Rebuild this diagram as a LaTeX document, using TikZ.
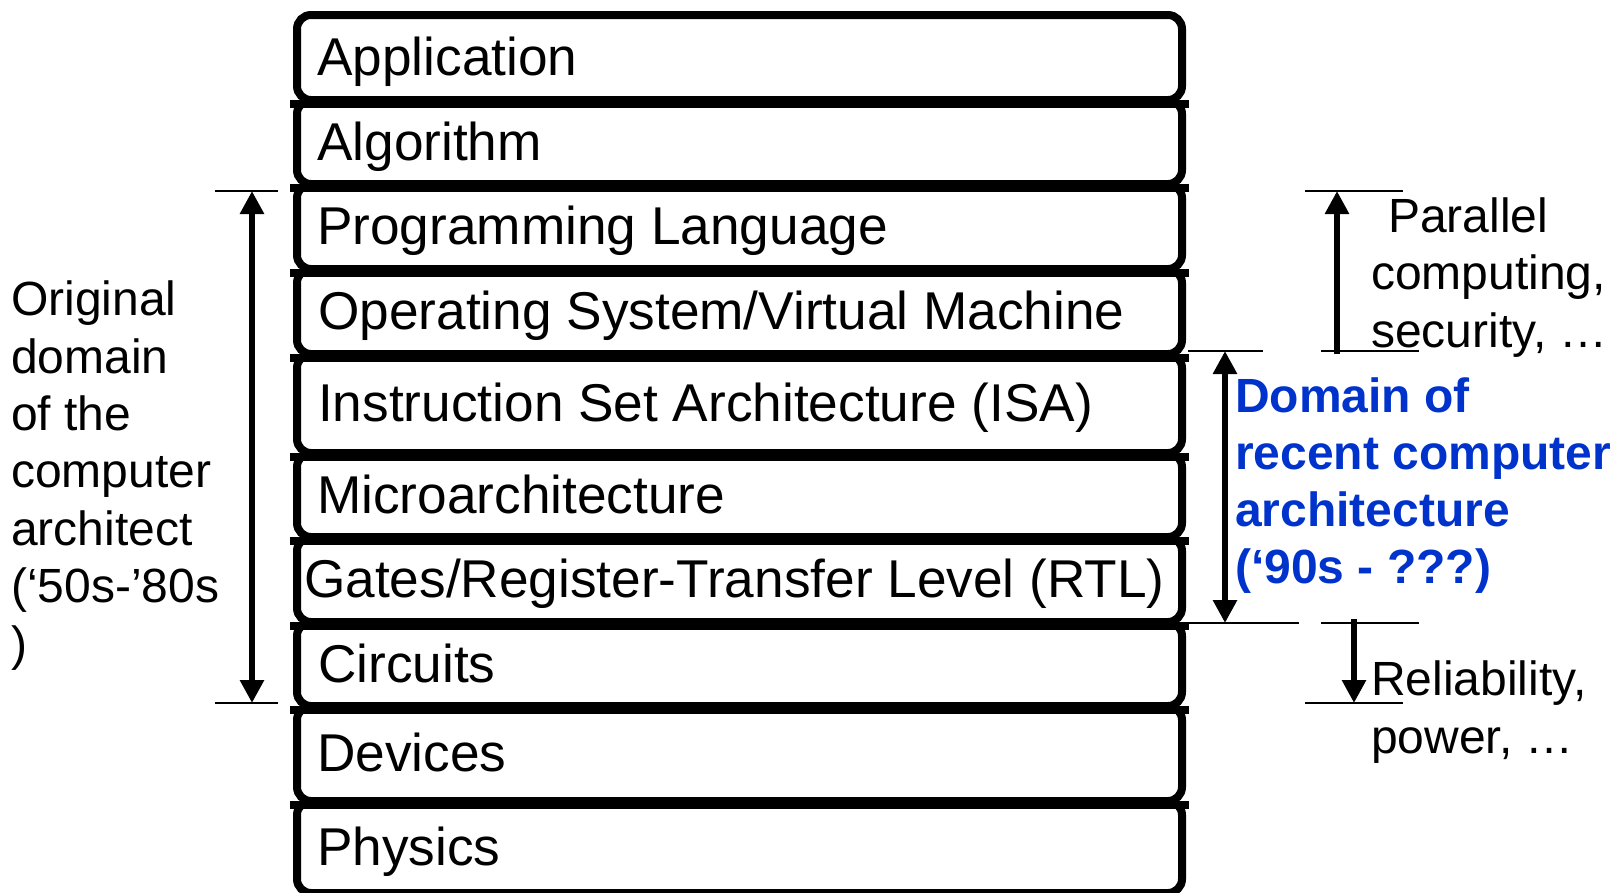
\documentclass[tikz,border=0pt]{standalone}
\usepackage{fontspec}
\setmainfont{Liberation Sans}
\usetikzlibrary{arrows.meta,calc}
\definecolor{domblue}{HTML}{0033CC}
\begin{document}
\begin{tikzpicture}[x=1pt,y=-1pt,
  layer/.style={draw, line width=8pt, rounded corners=14pt, minimum width=885pt, inner sep=0pt, anchor=north west},
  sep/.style={line width=8pt},
  boxtext/.style={font=\fontsize{53.2}{60}\selectfont, inner sep=0pt, anchor=base west},
  side/.style={font=\fontsize{48}{57.4}\selectfont, inner sep=0pt, anchor=base west, align=left},
  dom/.style={font=\fontsize{48}{56.8}\selectfont\bfseries, text=domblue, inner sep=0pt, anchor=base west, align=left},
  tick/.style={line width=2pt},
  dbl/.style={line width=6.5pt, {Triangle[length=23pt,width=23pt]}-{Triangle[length=23pt,width=23pt]}},
  sgl/.style={line width=6.5pt, -{Triangle[length=23pt,width=23pt]}}]
\useasboundingbox (0,0) rectangle (1616,892);
% layer boxes
\node[layer, minimum height=85pt] (app) at (293,11) {};
\node[layer, minimum height=84pt] (alg) at (293,96) {};
\node[layer, minimum height=85pt] (pl) at (293,180) {};
\node[layer, minimum height=85pt] (os) at (293,265) {};
\node[layer, minimum height=99pt] (isa) at (293,350) {};
\node[layer, minimum height=84pt] (mic) at (293,449) {};
\node[layer, minimum height=85pt] (rtl) at (293,533) {};
\node[layer, minimum height=84pt] (cir) at (293,618) {};
\node[layer, minimum height=95pt] (dev) at (293,702) {};
\node[layer, minimum height=92pt] (phy) at (293,797) {};
% separators
\foreach \a/\b in {app/alg,alg/pl,pl/os,os/isa,isa/mic,mic/rtl,rtl/cir,cir/dev,dev/phy}{
  \draw[sep] ($(\a.south west)+(-3,0)$) -- ($(\a.south east)+(3,0)$);
}
% labels
\node[boxtext] (appL) at ($(app.west)+(24,18)$) {Application};
\node[boxtext] (algL) at ($(alg.west)+(24,18)$) {Algorithm};
\node[boxtext] (plL) at ($(pl.west)+(24,18)$) {Programming Language};
\node[boxtext] (osL) at ($(os.west)+(25,18)$) {Operating System/Virtual Machine};
\node[boxtext] (isaL) at ($(isa.west)+(25,18)$) {Instruction Set Architecture (ISA)};
\node[boxtext] (micL) at ($(mic.west)+(24,18)$) {Microarchitecture};
\node[boxtext] (rtlL) at ($(rtl.west)+(11,18)$) {Gates/Register-Transfer Level (RTL)};
\node[boxtext] (cirL) at ($(cir.west)+(25,18)$) {Circuits};
\node[boxtext] (devL) at ($(dev.west)+(24,18)$) {Devices};
\node[boxtext] (phyL) at ($(phy.west)+(24,18)$) {Physics};
% left range
\coordinate (lt1) at (215,191); \coordinate (lt2) at (278,191);
\coordinate (lb1) at (215,703); \coordinate (lb2) at (278,703);
\coordinate (la1) at (252,191); \coordinate (la2) at (252,703);
\draw[tick] (lt1) -- (lt2);
\draw[tick] (lb1) -- (lb2);
\draw[dbl] (la1) -- (la2);
\node[side] (orig) at (11,660) {Original\\domain\\of the\\computer\\architect\\(‘50s-’80s\\)};
% domain range
\coordinate (dt1) at (1188,351); \coordinate (dt2) at (1263,351);
\coordinate (db1) at (1188,623); \coordinate (db2) at (1299,623);
\coordinate (da1) at (1225,351); \coordinate (da2) at (1225,623);
\draw[tick] (dt1) -- (dt2);
\draw[tick] (db1) -- (db2);
\draw[dbl] (da1) -- (da2);
\node[dom] (domL) at (1235,583) {Domain of\\recent computer\\architecture\\(‘90s - ???)};
% parallel
\coordinate (pt1) at (1305,191); \coordinate (pt2) at (1403,191);
\coordinate (pb1) at (1321,351); \coordinate (pb2) at (1419,351);
\coordinate (pa1) at (1337,354); \coordinate (pa2) at (1337,191);
\draw[tick] (pt1) -- (pt2);
\draw[tick] (pb1) -- (pb2);
\draw[sgl] (pa1) -- (pa2);
\node[side] (parL) at (1371,347) {\hspace*{17pt}Parallel\\computing,\\security, …};
% reliability
\coordinate (rt1) at (1321,623); \coordinate (rt2) at (1419,623);
\coordinate (rb1) at (1305,703); \coordinate (rb2) at (1403,703);
\coordinate (ra1) at (1354,619); \coordinate (ra2) at (1354,703);
\draw[tick] (rt1) -- (rt2);
\draw[tick] (rb1) -- (rb2);
\draw[sgl] (ra1) -- (ra2);
\node[side] (relL) at (1371,753) {Reliability,\\power, …};
\end{tikzpicture}
\end{document}
